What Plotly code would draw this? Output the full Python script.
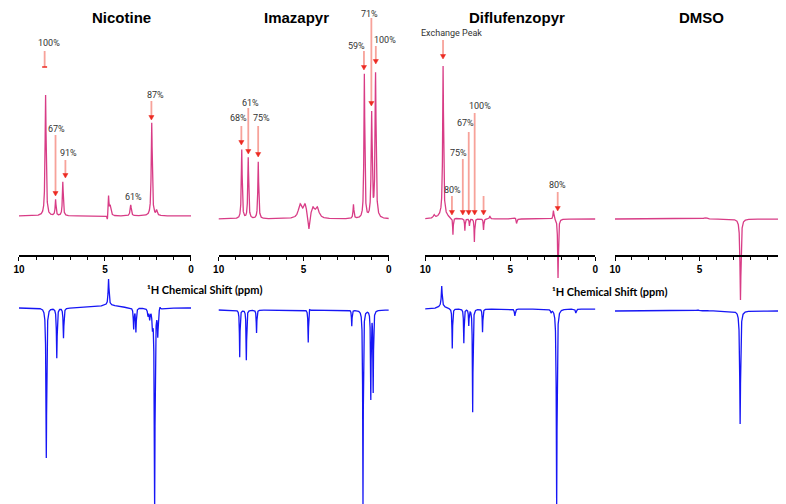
import numpy as np
import plotly.graph_objects as go

# ---------------- data: peak lists ----------------
# position (ppm), intensity (arbitrary units ~ px), half width (ppm)
titles = ["Nicotine", "Imazapyr", "Diflufenzopyr", "DMSO"]

nic_std_pos = [8.45, 7.87, 7.45, 4.86, 4.79, 4.70, 3.50, 2.28, 2.00]
nic_std_int = [121, 16, 34, -6, 19, 10, 11, 93, 5]
nic_std_wid = [0.035, 0.03, 0.03, 0.03, 0.025, 0.05, 0.04, 0.035, 0.04]

nic_ref_pos = [8.41, 7.80, 7.41, 4.79, 4.79, 3.33, 3.20, 2.50, 2.40, 2.24, 2.11, 1.93, 1.80]
nic_ref_int = [-150, -50, -30, 26, 3, -21, -24, -7, -10, -16, -199, -26, 3]
nic_ref_wid = [0.025, 0.025, 0.025, 0.03, 0.6, 0.025, 0.025, 0.03, 0.03, 0.03, 0.025, 0.025, 0.03]

ima_std_pos = [8.64, 8.26, 7.67, 5.21, 4.92, 4.69, 4.46, 4.20, 2.07, 1.43, 1.00, 0.77]
ima_std_int = [69, 61, 57, 13, 13, -16, 10, 10, 14, 144, 104, 144]
ima_std_wid = [0.03, 0.03, 0.03, 0.12, 0.12, 0.05, 0.12, 0.12, 0.03, 0.03, 0.035, 0.035]

ima_ref_pos = [8.76, 8.37, 7.77, 4.73, 4.66, 2.17, 1.51, 1.05, 0.91]
ima_ref_int = [-47, -50, -23, -33, 3, -16, -195, -88, -81]
ima_ref_wid = [0.02, 0.02, 0.02, 0.02, 0.03, 0.02, 0.02, 0.02, 0.02]

dif_std_pos = [9.48, 8.95, 8.95, 8.37, 7.67, 7.40, 7.11, 6.57, 6.20, 4.70, 4.63, 2.46, 2.19]
dif_std_int = [3, 148, 5, -17, -12, -7, -23, -11, 3, 1.5, -5, 9, -59]
dif_std_wid = [0.05, 0.03, 0.25, 0.02, 0.02, 0.02, 0.02, 0.02, 0.03, 0.05, 0.03, 0.03, 0.025]

dif_ref_pos = [9.03, 9.03, 8.41, 7.73, 7.44, 7.21, 6.63, 4.73, 2.60, 2.27, 1.14]
dif_ref_int = [20, 3, -40, -34, -16, -103, -23, -7, -3, -201, -4]
dif_ref_wid = [0.03, 0.25, 0.02, 0.02, 0.02, 0.02, 0.02, 0.03, 0.03, 0.025, 0.03]

dmso_std_pos = [4.65, 2.58]
dmso_std_int = [1.5, -81]
dmso_std_wid = [0.1, 0.035]

dmso_ref_pos = [5.10, 4.60, 2.60]
dmso_ref_int = [1, 1, -113]
dmso_ref_wid = [0.1, 0.1, 0.03]

std_peaks = [(nic_std_pos, nic_std_int, nic_std_wid), (ima_std_pos, ima_std_int, ima_std_wid),
             (dif_std_pos, dif_std_int, dif_std_wid), (dmso_std_pos, dmso_std_int, dmso_std_wid)]
ref_peaks = [(nic_ref_pos, nic_ref_int, nic_ref_wid), (ima_ref_pos, ima_ref_int, ima_ref_wid),
             (dif_ref_pos, dif_ref_int, dif_ref_wid), (dmso_ref_pos, dmso_ref_int, dmso_ref_wid)]

x_ticks = [10, 5, 0]

# ---------------- helpers ----------------
W, H = 786, 504
def px(x):
    return x / W
def py(y):
    return 1 - y / H

def spectrum(pos, inten, wid):
    grid = np.union1d(np.linspace(10.02, -0.02, 4009), np.array(pos))[::-1]
    s = np.zeros_like(grid)
    for p, a, w in zip(pos, inten, wid):
        s += a / (1 + ((grid - p) / w) ** 2)
    return grid, s

PINK = "#d83c86"
BLUE = "#1616f5"
col_px = [(5, 179), (207, 379), (416, 588), (608, 779)]
std_base = [208, 211, 211, 211]
ref_base = [300, 302, 301, 303]
axis_y = 248

fig = go.Figure()
layout = dict(width=W, height=H, margin=dict(l=0, r=0, t=0, b=0),
              paper_bgcolor="white", plot_bgcolor="rgba(0,0,0,0)", showlegend=False)

for i in range(4):
    n = i + 1
    xa = "x" if n == 1 else f"x{n}"
    ya_s = "y" if n == 1 else f"y{n}"
    ya_r = f"y{n + 4}"
    gx, gs = spectrum(*std_peaks[i])
    fig.add_trace(go.Scatter(x=gx, y=gs, mode="lines", line=dict(color=PINK, width=1.3),
                             xaxis=xa, yaxis=ya_s, hoverinfo="skip"))
    rx, rs = spectrum(*ref_peaks[i])
    fig.add_trace(go.Scatter(x=rx, y=rs, mode="lines", line=dict(color=BLUE, width=1.3),
                             xaxis=xa, yaxis=ya_r, hoverinfo="skip"))
    l, r = col_px[i]
    layout["xaxis" if n == 1 else f"xaxis{n}"] = dict(
        domain=[px(l), px(r)], range=[10, 0], anchor="free", position=py(axis_y),
        showline=True, linecolor="black", linewidth=1.5, showgrid=False, zeroline=False,
        ticks="outside", ticklen=4, tickwidth=1.2, tickcolor="black",
        tickvals=x_ticks, ticktext=[str(t) for t in x_ticks], ticklabeloverflow="allow",
        tickfont=dict(family="Arial", size=10, color="black", weight="bold"),
        minor=dict(ticks="outside", ticklen=3, tickwidth=1, tickcolor="black", dtick=1, tick0=0, showgrid=False),
    )
    b = std_base[i]
    layout["yaxis" if n == 1 else f"yaxis{n}"] = dict(
        domain=[0, 1], range=[b - H, b], visible=False, anchor=xa, fixedrange=True)
    rb = ref_base[i]
    layout[f"yaxis{n + 4}"] = dict(
        domain=[0, 1], range=[rb - H, rb], visible=False, anchor=xa, fixedrange=True)

annotations = []
shapes = []

# panel titles
title_px = [(109, 9), (286, 9), (509, 9), (695, 9)]
for t, (tx, ty) in zip(titles, title_px):
    annotations.append(dict(text=t, x=px(tx), y=py(ty), xref="paper", yref="paper",
                            showarrow=False, xanchor="center", yanchor="middle",
                            font=dict(family="Arial", size=15, color="black", weight="bold")))

# axis labels
for lx, ly in [(193, 281), (602, 283)]:
    annotations.append(dict(text="¹H Chemical Shift (ppm)", x=px(lx), y=py(ly), xref="paper", yref="paper",
                            showarrow=False, xanchor="center", yanchor="middle",
                            font=dict(family="Lato", size=11, color="black", weight="bold")))

# percentage labels & arrows: (label, text_x, text_y, arrow_x, tail_y, head_y, head style)
labels = [
    ("100%", 35, 35, 31, 43, 59, "tee"),
    ("67%", 43, 121, 42, 127, 188, "tri"),
    ("91%", 55, 145, 52, 152, 170, "tri"),
    ("61%", 121, 189, None, None, None, None),
    ("87%", 143, 87, 139, 93, 112, "tri"),
    ("68%", 227, 110, 230, 118, 137, "tri"),
    ("61%", 239, 95, 237, 100, 146, "tri"),
    ("75%", 250, 110, 247, 118, 149, "tri"),
    ("59%", 346, 38, 354, 43, 62, "tri"),
    ("71%", 360, 6, 361.5, 10, 98, "tri"),
    ("100%", 375, 32, 366, 38, 56, "tri"),
    ("Exchange Peak", 443, 25, 434, 32, 51, "tri"),
    ("80%", 444, 182, 443, 188, 207, "tri"),
    ("75%", 450, 145, 454, 151, 207, "tri"),
    ("67%", 457, 115, 460, 124, 207, "tri"),
    ("100%", 471, 98, 466, 105, 207, "tri"),
    ("", None, None, 475, 188, 207, "tri"),
    ("80%", 550, 177, 550, 184, 203, "tri"),
]
LFONT = dict(family="Roboto, Arial, sans-serif", size=9, color="#333333")
for lab, tx, ty, ax, t0, t1, style in labels:
    if lab:
        annotations.append(dict(text=lab, x=px(tx), y=py(ty), xref="paper", yref="paper",
                                showarrow=False, xanchor="center", yanchor="middle", font=LFONT))
    if ax is None:
        continue
    if style == "tee":
        shapes.append(dict(type="line", xref="paper", yref="paper",
                           x0=px(ax), x1=px(ax), y0=py(t0), y1=py(t1),
                           line=dict(color="#f7a29a", width=1.8)))
        shapes.append(dict(type="line", xref="paper", yref="paper",
                           x0=px(ax - 2.5), x1=px(ax + 2.5), y0=py(t1), y1=py(t1),
                           line=dict(color="#ec2a22", width=1.5)))
    else:
        shapes.append(dict(type="line", xref="paper", yref="paper",
                           x0=px(ax), x1=px(ax), y0=py(t0), y1=py(t1 - 3),
                           line=dict(color="#f7a29a", width=1.8)))
        path = (f"M {px(ax - 2.6)},{py(t1 - 4.5)} L {px(ax + 2.6)},{py(t1 - 4.5)} "
                f"L {px(ax)},{py(t1)} Z")
        shapes.append(dict(type="path", xref="paper", yref="paper", path=path,
                           fillcolor="#ec2a22", line=dict(color="#ec2a22", width=0.5)))

layout["annotations"] = annotations
layout["shapes"] = shapes
fig.update_layout(**layout)
fig.write_html("out.html")
